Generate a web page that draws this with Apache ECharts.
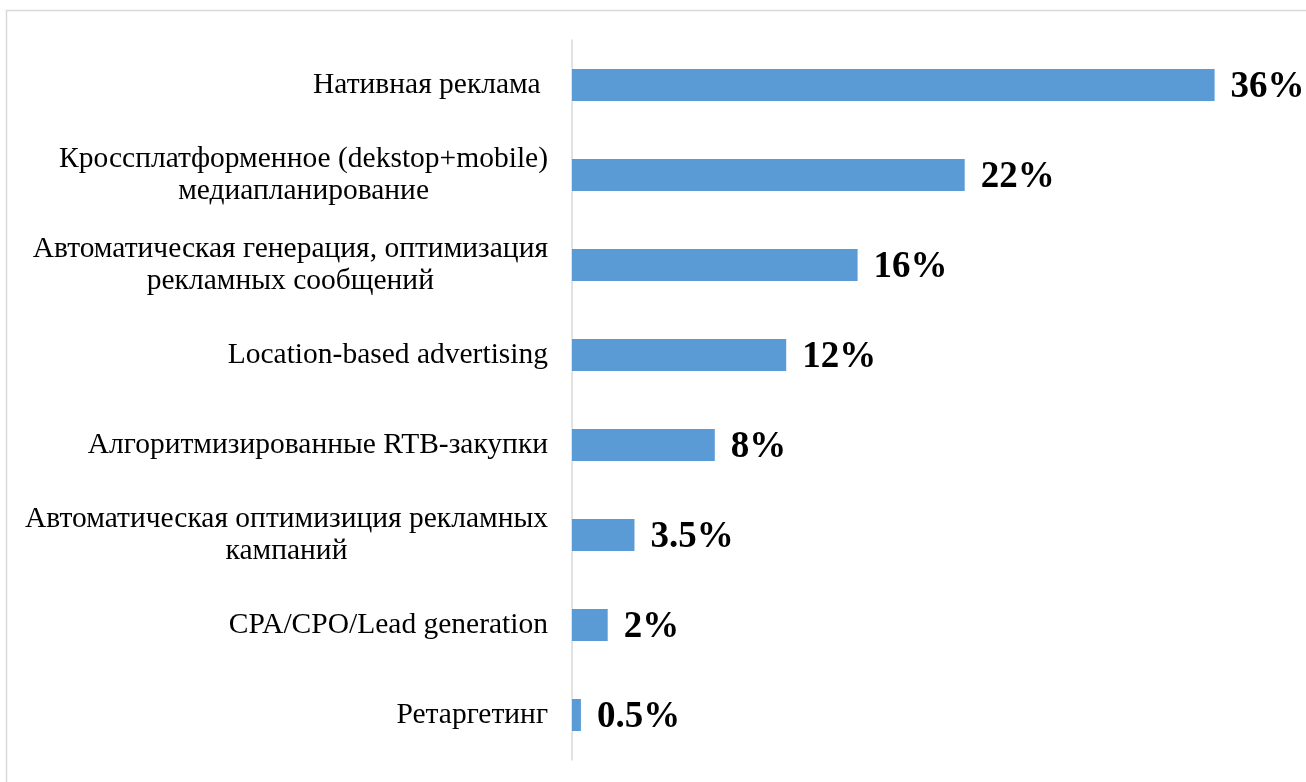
<!DOCTYPE html>
<html>
<head>
<meta charset="utf-8">
<script src="https://cdn.jsdelivr.net/npm/echarts@6/dist/echarts.min.js"></script>
<style>
  html, body { margin: 0; padding: 0; background: #fff; }
  #chart { width: 1306px; height: 782px; }
</style>
</head>
<body>
<div id="chart"></div>
<script>
// Channel names (top to bottom) and their shares, %
const categories = [
  'Нативная реклама ',
  'Кроссплатформенное (dekstop+mobile)\nмедиапланирование',
  'Автоматическая генерация, оптимизация\nрекламных сообщений',
  'Location-based advertising',
  'Алгоритмизированные RTB-закупки',
  'Автоматическая оптимизиция рекламных\nкампаний',
  'CPA/CPO/Lead generation',
  'Ретаргетинг'
];
const shares = [36, 22, 16, 12, 8, 3.5, 2, 0.5];

const serif = '"Liberation Serif", "Times New Roman", serif';

const chart = echarts.init(document.getElementById('chart'));
chart.setOption({
  animation: false,
  backgroundColor: '#ffffff',
  graphic: [{
    type: 'rect',
    shape: { x: 6.5, y: 10.5, width: 1400, height: 900 },
    style: { fill: 'none', stroke: '#d9d9d9', lineWidth: 1.5 },
    silent: true
  }],
  grid: { left: 572, top: 40, width: 714, height: 720, containLabel: false },
  xAxis: {
    type: 'value',
    min: 0,
    max: 40,
    show: false
  },
  yAxis: {
    type: 'category',
    inverse: true,
    data: categories,
    axisLine: { show: true, lineStyle: { color: '#d9d9d9', width: 1.5 } },
    axisTick: { show: false },
    axisLabel: {
      margin: 24,
      formatter: function (v) {
        return v.split('\n').map(function (l) { return '{c|' + l + '}'; }).join('\n');
      },
      rich: {
        c: {
          align: 'center',
          fontFamily: serif,
          fontSize: 29.5,
          lineHeight: 32,
          color: '#000'
        }
      }
    }
  },
  series: [{
    type: 'bar',
    data: shares,
    barWidth: 32,
    itemStyle: { color: '#5b9bd5' },
    label: {
      show: true,
      position: 'right',
      distance: 16,
      offset: [0, 2],
      fontFamily: serif,
      fontWeight: 'bold',
      fontSize: 37,
      color: '#000',
      formatter: function (p) { return p.value + '%'; }
    }
  }]
});
</script>
</body>
</html>
